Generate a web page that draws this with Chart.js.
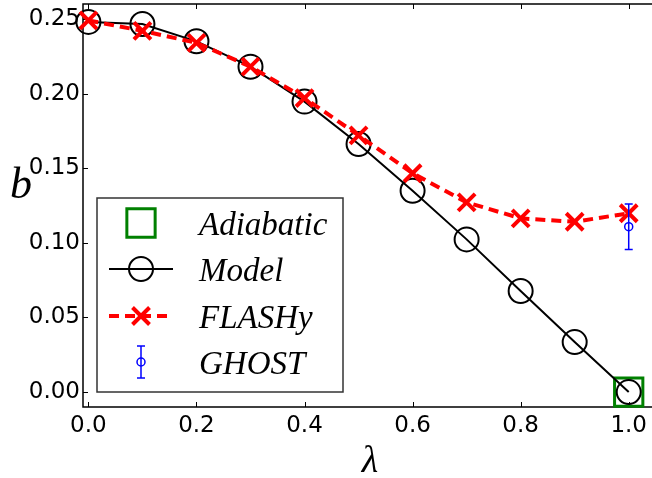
<!DOCTYPE html>
<html>
<head>
<meta charset="utf-8">
<script src="https://cdn.jsdelivr.net/npm/chart.js@4.4.0/dist/chart.umd.min.js"></script>
<style>
  html, body { margin: 0; padding: 0; background: #fff; }
  #wrap { width: 652px; height: 478px; }
</style>
</head>
<body>
<div id="wrap"><canvas id="chart" width="652" height="478"></canvas></div>
<script>
// values
const lambdas = [0.0, 0.1, 0.2, 0.3, 0.4, 0.5, 0.6, 0.7, 0.8, 0.9, 1.0];
const modelB = [0.248, 0.2466, 0.235, 0.218, 0.1946, 0.1662, 0.1349, 0.1023, 0.0677, 0.0335, 0.0];
const flashB = [0.249, 0.242, 0.234, 0.218, 0.197, 0.172, 0.1466, 0.1271, 0.1164, 0.1141, 0.1198];
const adiabaticX = [1.0];
const adiabaticB = [0.0];
const ghostX = [1.0];
const ghostB = [0.1108];
const ghostErr = [0.0152];

const xTicks = [0.0, 0.2, 0.4, 0.6, 0.8, 1.0];
const yTicks = [0.00, 0.05, 0.10, 0.15, 0.20, 0.25];

const mathFont = '"Liberation Serif", "DejaVu Serif", serif';

const pts = (xs, ys) => xs.map((x, i) => ({ x: x, y: ys[i] }));

// spines, inward ticks, axis titles
const frame = {
    id: 'frame',
    beforeDatasetsDraw(chart) {
        const { ctx, chartArea: a, scales: { x, y } } = chart;
        ctx.save();
        ctx.strokeStyle = '#000';
        ctx.lineWidth = 1.5;
        ctx.beginPath();
        ctx.moveTo(a.right + 2, a.top); ctx.lineTo(a.left, a.top);
        ctx.lineTo(a.left, a.bottom); ctx.lineTo(a.right + 2, a.bottom);
        ctx.stroke();
        ctx.lineWidth = 1;
        ctx.beginPath();
        x.ticks.forEach((t, i) => {
            const px = Math.round(x.getPixelForTick(i)) + 0.5;
            ctx.moveTo(px, a.bottom); ctx.lineTo(px, a.bottom - 5);
            ctx.moveTo(px, a.top); ctx.lineTo(px, a.top + 5);
        });
        y.ticks.forEach((t, i) => {
            const py = Math.round(y.getPixelForTick(i)) + 0.5;
            ctx.moveTo(a.left, py); ctx.lineTo(a.left + 5, py);
        });
        ctx.stroke();

        ctx.fillStyle = '#000';
        ctx.textAlign = 'center';
        ctx.textBaseline = 'alphabetic';
        ctx.font = 'italic 44px ' + mathFont;
        ctx.fillText('b', 21, 198);
        ctx.font = 'italic 38px ' + mathFont;
        ctx.fillText('λ', 370, 472);
        ctx.restore();
    },
    afterDatasetsDraw(chart) {
        // GHOST error bars
        const { ctx, scales: { x, y } } = chart;
        ctx.save();
        ctx.strokeStyle = '#0000ff';
        ctx.lineWidth = 1.5;
        ghostX.forEach((gx, i) => {
            const px = x.getPixelForValue(gx);
            const top = y.getPixelForValue(ghostB[i] + ghostErr[i]);
            const bot = y.getPixelForValue(ghostB[i] - ghostErr[i]);
            ctx.beginPath();
            ctx.moveTo(px, top); ctx.lineTo(px, bot);
            ctx.moveTo(px - 4, top); ctx.lineTo(px + 4, top);
            ctx.moveTo(px - 4, bot); ctx.lineTo(px + 4, bot);
            ctx.stroke();
        });
        ctx.restore();
    }
};

// matplotlib style legend box inside the plot
const boxLegend = {
    id: 'boxLegend',
    afterDraw(chart) {
        const ctx = chart.ctx;
        const bx = 97, by = 198, bw = 246, bh = 194;
        const mx = 141, rowY = [223, 269, 316, 362];
        ctx.save();
        ctx.fillStyle = '#fff';
        ctx.fillRect(bx, by, bw, bh);
        ctx.strokeStyle = '#333';
        ctx.lineWidth = 1.5;
        ctx.strokeRect(bx, by, bw, bh);

        chart.data.datasets.forEach((ds, row) => {
            const yy = rowY[row];
            if (ds.showLine) {
                ctx.save();
                ctx.strokeStyle = ds.borderColor;
                ctx.lineWidth = ds.borderWidth;
                ctx.setLineDash(ds.borderDash || []);
                ctx.beginPath();
                ctx.moveTo(109, yy); ctx.lineTo(173, yy);
                ctx.stroke();
                ctx.restore();
            }
            if (ds.label === 'GHOST') {
                ctx.save();
                ctx.strokeStyle = '#0000ff';
                ctx.lineWidth = 1.5;
                ctx.beginPath();
                ctx.moveTo(mx, yy - 16); ctx.lineTo(mx, yy + 16);
                ctx.moveTo(mx - 4, yy - 16); ctx.lineTo(mx + 4, yy - 16);
                ctx.moveTo(mx - 4, yy + 16); ctx.lineTo(mx + 4, yy + 16);
                ctx.stroke();
                ctx.restore();
            }
            ctx.save();
            ctx.strokeStyle = ds.pointBorderColor;
            ctx.fillStyle = 'rgba(0,0,0,0)';
            ctx.lineWidth = ds.pointBorderWidth;
            Chart.helpers.drawPoint(ctx, {
                pointStyle: ds.pointStyle,
                radius: ds.pointRadius,
                rotation: 0,
                borderWidth: ds.pointBorderWidth
            }, mx, yy);
            ctx.restore();

            ctx.fillStyle = '#000';
            ctx.font = 'italic 33px ' + mathFont;
            ctx.textAlign = 'left';
            ctx.textBaseline = 'alphabetic';
            ctx.fillText(ds.label, 199, yy + 12);
        });
        ctx.restore();
    }
};

new Chart(document.getElementById('chart'), {
    type: 'line',
    data: {
        datasets: [{
            label: 'Adiabatic',
            data: pts(adiabaticX, adiabaticB),
            showLine: false,
            pointStyle: 'rect',
            pointRadius: 20,
            pointBorderWidth: 3,
            pointBorderColor: '#008000',
            pointBackgroundColor: 'rgba(0,0,0,0)',
            borderColor: '#008000',
            order: 4
        }, {
            label: 'Model',
            data: pts(lambdas, modelB),
            showLine: true,
            borderColor: '#000000',
            borderWidth: 2,
            pointStyle: 'circle',
            pointRadius: 12,
            pointBorderWidth: 2,
            pointBorderColor: '#000000',
            pointBackgroundColor: 'rgba(0,0,0,0)',
            order: 3
        }, {
            label: 'FLASHy',
            data: pts(lambdas, flashB),
            showLine: true,
            borderColor: '#ff0000',
            borderWidth: 4,
            borderDash: [10, 6],
            pointStyle: 'crossRot',
            pointRadius: 12,
            pointBorderWidth: 4,
            pointBorderColor: '#ff0000',
            pointBackgroundColor: 'rgba(0,0,0,0)',
            order: 2
        }, {
            label: 'GHOST',
            data: pts(ghostX, ghostB),
            showLine: false,
            pointStyle: 'circle',
            pointRadius: 4,
            pointBorderWidth: 1.5,
            pointBorderColor: '#0000ff',
            pointBackgroundColor: 'rgba(0,0,0,0)',
            borderColor: '#0000ff',
            order: 1
        }]
    },
    options: {
        responsive: false,
        animation: false,
        clip: false,
        events: [],
        layout: { autoPadding: false, padding: { top: 4, left: 0, right: 0, bottom: 0 } },
        plugins: { legend: { display: false }, tooltip: { enabled: false } },
        scales: {
            x: {
                type: 'linear',
                min: -0.01,
                max: 1.04,
                afterFit: s => { s.height = 71; },
                afterBuildTicks: s => { s.ticks = xTicks.map(v => ({ value: v })); },
                grid: { display: false, drawTicks: false },
                border: { display: false },
                ticks: {
                    font: { family: 'DejaVu Sans', size: 23 },
                    color: '#000', padding: 5, maxRotation: 0,
                    callback: v => v.toFixed(1)
                }
            },
            y: {
                min: -0.01,
                max: 0.26,
                afterFit: s => { s.width = 83; },
                afterBuildTicks: s => { s.ticks = yTicks.map(v => ({ value: v })); },
                grid: { display: false, drawTicks: false },
                border: { display: false },
                ticks: {
                    // tiny line height so the axis adds no top/bottom padding
                    font: { family: 'DejaVu Sans', size: 23, lineHeight: 0.05 },
                    color: '#000', padding: 3,
                    callback: v => v.toFixed(2)
                }
            }
        }
    },
    plugins: [frame, boxLegend]
});
</script>
</body>
</html>
